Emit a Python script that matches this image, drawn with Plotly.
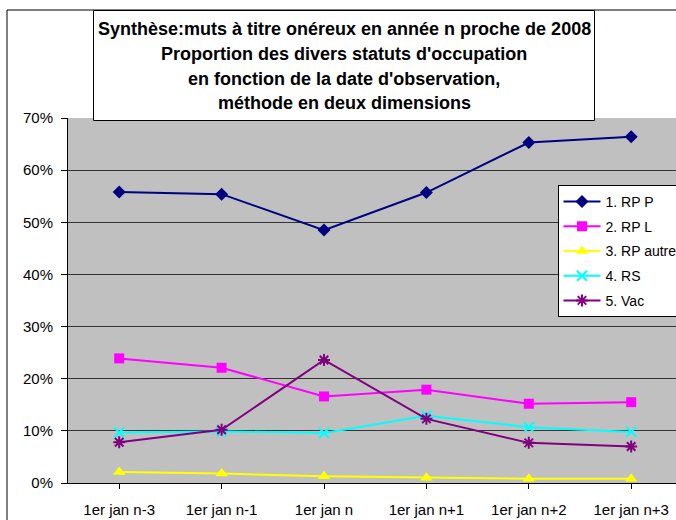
import plotly.graph_objects as go

categories = ["1er jan n-3", "1er jan n-1", "1er jan n", "1er jan n+1", "1er jan n+2", "1er jan n+3"]
rp_p = [0.558, 0.554, 0.485, 0.557, 0.653, 0.664]
rp_l = [0.239, 0.221, 0.166, 0.179, 0.152, 0.155]
rp_autre = [0.021, 0.018, 0.013, 0.010, 0.008, 0.008]
rs = [0.097, 0.099, 0.096, 0.129, 0.107, 0.098]
vac = [0.078, 0.102, 0.236, 0.123, 0.077, 0.070]
y_ticks = [0, 0.1, 0.2, 0.3, 0.4, 0.5, 0.6, 0.7]
title_lines = [
    "Synthèse:muts à titre onéreux en année n proche de 2008",
    "Proportion des divers statuts d'occupation",
    "en fonction de la date d'observation,",
    "méthode en deux dimensions",
]

W, H = 676, 520
ML, MT, MB, MR = 68, 118, 37, 0
PW, PH = W - ML - MR, H - MT - MB


def px(x):
    return (x - ML) / PW


def py(y):
    return 1 - (y - MT) / PH


series = [
    ("1. RP P", rp_p, "#000080", "diamond", 10, None),
    ("2. RP L", rp_l, "#FF00FF", "square", 10, None),
    ("3. RP autre", rp_autre, "#FFFF00", "triangle-up", 11, None),
    ("4. RS", rs, "#00FFFF", "x-thin-open", 10, 2),
    ("5. Vac", vac, "#800080", "asterisk-open", 10, 2),
]

fig = go.Figure()
for i, (name, vals, col, sym, size, mlw) in enumerate(series):
    marker = dict(symbol=sym, size=size, color=col)
    if mlw:
        marker["line"] = dict(color=col, width=mlw)
    fig.add_trace(go.Scatter(
        x=list(range(len(categories))), y=vals, name=name, mode="lines+markers",
        line=dict(color=col, width=2), marker=marker, legendgroup=f"g{i}",
    ))

shapes = [
    # outer chart border
    dict(type="rect", xref="paper", yref="paper", x0=px(7), x1=px(W + 20), y0=py(H + 20), y1=py(10),
         line=dict(color="black", width=1), fillcolor="rgba(0,0,0,0)", layer="below"),
    # title box
    dict(type="rect", xref="paper", yref="paper", x0=px(93.5), x1=px(594.5), y0=py(120.5), y1=py(10.5),
         line=dict(color="black", width=1), fillcolor="white", layer="above"),
]

title_y = [29, 54, 78.5, 102.5]
annotations = [
    dict(text=f"<b>{t}</b>", xref="paper", yref="paper", x=px(344), y=py(yy), xanchor="center", yanchor="middle",
         showarrow=False, font=dict(family="Liberation Sans, Arial", size=18, color="black"))
    for t, yy in zip(title_lines, title_y)
]

fig.update_layout(
    width=W, height=H,
    margin=dict(l=ML, r=MR, t=MT, b=MB, autoexpand=False),
    paper_bgcolor="white", plot_bgcolor="#C0C0C0",
    font=dict(family="Liberation Sans, Arial", size=15, color="black"),
    shapes=shapes, annotations=annotations,
    showlegend=True,
    legend=dict(x=px(557.5), y=py(185), xanchor="left", yanchor="top",
                bgcolor="white", bordercolor="black", borderwidth=1, itemwidth=37,
                font=dict(size=14), traceorder="grouped", tracegroupgap=3.5),
    xaxis=dict(tickmode="array", tickvals=list(range(len(categories))), ticktext=categories,
               range=[-0.5, -0.5 + PW / 102.4], showgrid=False, zeroline=False,
               showline=True, linecolor="black", linewidth=1,
               ticks="outside", ticklen=5, tickcolor="black", tickson="boundaries",
               ticklabelstandoff=8),
    yaxis=dict(range=[0, 0.7], tickvals=y_ticks, tickformat=".0%",
               showgrid=True, gridcolor="#333333", gridwidth=1, zeroline=False,
               showline=True, linecolor="black", linewidth=1,
               ticks="outside", ticklen=6, tickcolor="black", ticklabelstandoff=5),
)

fig.write_html("out.html", config={"displayModeBar": False},
               post_script="document.body.style.margin='0';document.body.style.overflow='hidden';")
